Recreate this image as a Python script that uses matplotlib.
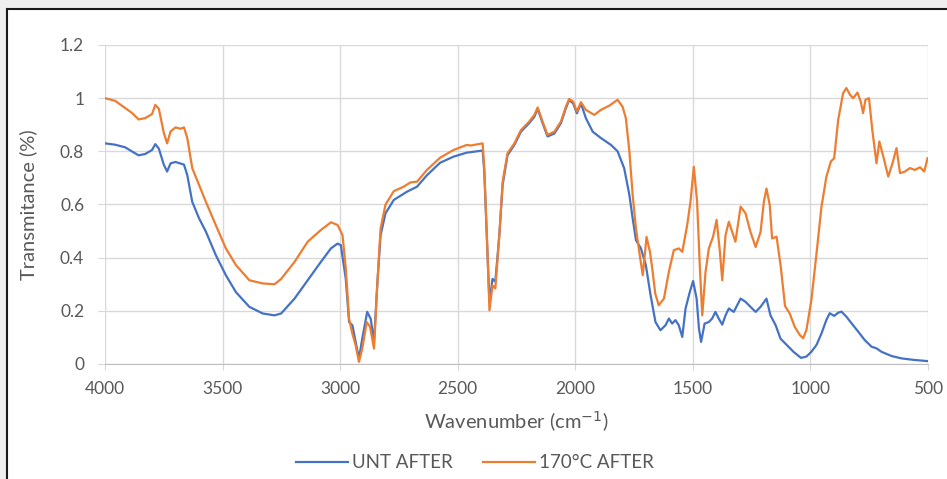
import matplotlib.pyplot as plt
from matplotlib.patches import Rectangle
from matplotlib.ticker import FuncFormatter, MultipleLocator

plt.rcParams['font.family'] = ['Lato', 'DejaVu Sans']

# wavenumber (cm-1) / transmittance
unt_wn = [4000, 3957, 3914, 3886, 3857, 3829, 3800, 3786, 3771, 3750, 3736, 3721, 3700, 3664,
          3650, 3629, 3600, 3571, 3529, 3486, 3443, 3386, 3329, 3279, 3251, 3194, 3138, 3082,
          3039, 3011, 2997, 2976, 2962, 2948, 2934, 2920, 2906, 2885, 2870, 2856, 2842, 2828,
          2807, 2772, 2716, 2673, 2631, 2575, 2518, 2462, 2444, 2394, 2387, 2376, 2365, 2352,
          2340, 2323, 2309, 2288, 2259, 2231, 2196, 2174, 2160, 2139, 2118, 2089, 2061, 2040,
          2026, 2009, 1993, 1976, 1955, 1926, 1891, 1848, 1820, 1792, 1770, 1756, 1742, 1721,
          1700, 1680, 1659, 1638, 1616, 1602, 1588, 1574, 1560, 1545, 1531, 1513, 1499, 1484,
          1474, 1465, 1450, 1432, 1418, 1404, 1390, 1375, 1361, 1347, 1326, 1297, 1276, 1255,
          1233, 1212, 1187, 1170, 1148, 1127, 1099, 1071, 1040, 1017, 996, 974, 953, 932, 918,
          899, 882, 868, 847, 825, 797, 769, 740, 719, 698, 655, 612, 556, 502]
unt_t = [0.83, 0.825, 0.815, 0.80, 0.785, 0.79, 0.805, 0.827, 0.81, 0.75, 0.724, 0.755, 0.76, 0.75,
         0.71, 0.61, 0.548, 0.498, 0.41, 0.334, 0.27, 0.215, 0.19, 0.183, 0.19, 0.246, 0.315, 0.384,
         0.435, 0.453, 0.447, 0.32, 0.158, 0.146, 0.083, 0.02, 0.095, 0.196, 0.17, 0.083, 0.30, 0.485,
         0.567, 0.617, 0.648, 0.667, 0.71, 0.757, 0.78, 0.795, 0.797, 0.803, 0.724, 0.472, 0.234, 0.32,
         0.31, 0.485, 0.673, 0.786, 0.824, 0.874, 0.906, 0.93, 0.96, 0.906, 0.856, 0.867, 0.906, 0.962,
         0.993, 0.98, 0.943, 0.98, 0.925, 0.874, 0.85, 0.824, 0.80, 0.736, 0.636, 0.548, 0.466, 0.435,
         0.372, 0.26, 0.158, 0.127, 0.146, 0.171, 0.152, 0.165, 0.146, 0.102, 0.209, 0.271, 0.312, 0.246,
         0.133, 0.083, 0.152, 0.158, 0.171, 0.196, 0.171, 0.148, 0.183, 0.209, 0.196, 0.246, 0.234, 0.215,
         0.196, 0.215, 0.246, 0.183, 0.146, 0.095, 0.07, 0.045, 0.023, 0.028, 0.046, 0.072, 0.115, 0.166, 0.191,
         0.181, 0.193, 0.197, 0.178, 0.153, 0.122, 0.09, 0.065, 0.059, 0.046, 0.03, 0.021, 0.015, 0.011]

hot_wn = [4000, 3957, 3914, 3886, 3857, 3829, 3800, 3786, 3771, 3750, 3736, 3721, 3700, 3679,
          3664, 3650, 3629, 3600, 3571, 3529, 3486, 3443, 3386, 3329, 3279, 3251, 3194, 3138,
          3082, 3039, 3011, 2990, 2976, 2962, 2948, 2934, 2920, 2906, 2887, 2873, 2856, 2842,
          2828, 2807, 2772, 2730, 2701, 2673, 2631, 2575, 2518, 2462, 2444, 2394, 2387, 2376,
          2365, 2352, 2340, 2323, 2309, 2288, 2259, 2231, 2196, 2174, 2160, 2139, 2118, 2089,
          2061, 2040, 2026, 2009, 1993, 1976, 1955, 1919, 1891, 1855, 1820, 1799, 1785, 1770,
          1756, 1742, 1728, 1713, 1697, 1682, 1671, 1660, 1645, 1623, 1602, 1581, 1560, 1545,
          1524, 1510, 1496, 1482, 1470, 1460, 1446, 1432, 1414, 1399, 1385, 1375, 1361, 1347,
          1333, 1319, 1297, 1276, 1255, 1233, 1212, 1198, 1187, 1173, 1163, 1144, 1126, 1108,
          1088, 1067, 1045, 1031, 1017, 996, 974, 953, 932, 913, 899, 882, 861, 847, 832, 818,
          800, 786, 776, 766, 751, 737, 719, 707, 690, 669, 651, 634, 619, 598, 577, 556, 534,
          516, 502]
hot_t = [1.0, 0.99, 0.963, 0.945, 0.92, 0.925, 0.94, 0.975, 0.96, 0.87, 0.83, 0.875, 0.89, 0.885,
         0.89, 0.85, 0.737, 0.674, 0.61, 0.523, 0.435, 0.372, 0.315, 0.303, 0.30, 0.32, 0.384, 0.46,
         0.504, 0.533, 0.523, 0.485, 0.36, 0.17, 0.114, 0.07, 0.008, 0.058, 0.158, 0.14, 0.058, 0.30,
         0.51, 0.60, 0.65, 0.667, 0.683, 0.686, 0.73, 0.776, 0.805, 0.824, 0.822, 0.83, 0.736, 0.485,
         0.202, 0.296, 0.284, 0.485, 0.686, 0.793, 0.83, 0.88, 0.912, 0.937, 0.965, 0.912, 0.862, 0.874,
         0.912, 0.968, 0.997, 0.987, 0.95, 0.985, 0.956, 0.937, 0.956, 0.972, 0.994, 0.968, 0.925, 0.80,
         0.636, 0.51, 0.422, 0.334, 0.478, 0.42, 0.347, 0.265, 0.221, 0.246, 0.347, 0.428, 0.435, 0.422,
         0.523, 0.611, 0.742, 0.611, 0.359, 0.183, 0.347, 0.435, 0.479, 0.542, 0.422, 0.315, 0.485, 0.535,
         0.497, 0.46, 0.592, 0.567, 0.497, 0.44, 0.497, 0.611, 0.66, 0.598, 0.472, 0.479, 0.365, 0.218,
         0.19, 0.14, 0.109, 0.097, 0.128, 0.24, 0.417, 0.592, 0.705, 0.762, 0.774, 0.918, 1.019, 1.038, 1.013, 1.0,
         1.021, 0.987, 0.944, 0.994, 1.0, 0.881, 0.755, 0.837, 0.78, 0.705, 0.755, 0.812, 0.718, 0.724, 0.737, 0.73, 0.74,
         0.724, 0.774]

xticks = [4000, 3500, 3000, 2500, 2000, 1500, 1000, 500]

fig = plt.figure(figsize=(9.47, 4.79), dpi=100, facecolor='#efefef')
# white chart area with dark frame (runs off the right/bottom edge)
fig.patches.append(Rectangle((7 / 947, -0.02), 1.05, 0.02 + 1 - 9 / 479, transform=fig.transFigure,
                             facecolor='white', edgecolor='#1a1a1a', linewidth=1.5, zorder=-5))

ax = fig.add_axes([105 / 947, 1 - 364 / 479, 823 / 947, 319 / 479])
ax.set_facecolor('none')
ax.plot(unt_wn, unt_t, color='#4472C4', lw=1.6, label='UNT AFTER')
ax.plot(hot_wn, hot_t, color='#ED7D31', lw=1.6, label='170°C AFTER')

ax.set_xlim(4000, 500)
ax.set_ylim(0, 1.2)
ax.set_xticks(xticks)
ax.yaxis.set_major_locator(MultipleLocator(0.2))
ax.yaxis.set_major_formatter(FuncFormatter(lambda v, p: f'{v:g}'))
ax.grid(True, color='#d9d9d9', lw=1.0)
ax.set_axisbelow(True)
for s in ['top', 'right', 'left']:
    ax.spines[s].set_visible(False)
ax.spines['bottom'].set_color('#bfbfbf')
ax.tick_params(axis='both', colors='#d9d9d9', labelcolor='#595959', labelsize=12.5)
ax.tick_params(axis='y', length=5, pad=10)
ax.tick_params(axis='x', length=4, pad=8)

ax.set_xlabel('Wavenumber (cm$^{-1}$)', color='#595959', fontsize=14.5, va='center')
ax.set_ylabel('Transmitance (%)', color='#595959', fontsize=14.5, va='center')
ax.xaxis.set_label_coords(0.5, -(422 - 364) / 319)
ax.yaxis.set_label_coords((28 - 105) / 823, 0.5)

fig.legend(loc='center', bbox_to_anchor=(475 / 947, 1 - 463 / 479), ncol=2, frameon=False,
           fontsize=13.5, labelcolor='#595959', handlelength=2.8, handletextpad=0.2,
           columnspacing=1.6)

fig.savefig('out.png', dpi=100, facecolor=fig.get_facecolor())
